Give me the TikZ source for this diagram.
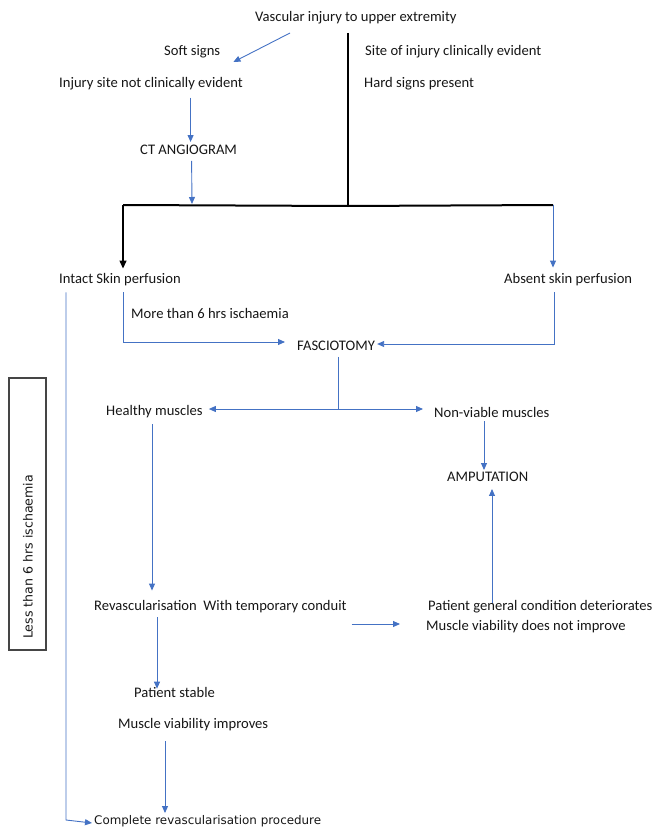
\documentclass[tikz,border=0pt]{standalone}
\usepackage{fontspec}
\setmainfont{Carlito}
\newfontfamily\boxfont{DejaVu Sans}
\usetikzlibrary{arrows.meta}
\definecolor{flowblue}{HTML}{4472C4}
\definecolor{inkgray}{HTML}{161616}
\tikzset{
  lbl/.style={anchor=west, inner sep=0pt, text=inkgray, font=\fontsize{14.6}{17}\selectfont},
  bluearrow/.style={draw=flowblue, line width=0.9pt, -{Triangle[width=6pt,length=7pt]}, flowblue},
  blueline/.style={draw=flowblue, line width=0.9pt},
  blackbar/.style={draw=black, line width=2pt},
  blackarrow/.style={draw=black, line width=1.3pt, -{Triangle[width=7pt,length=8pt]}},
}
\begin{document}
\begin{tikzpicture}[x=1pt,y=-1pt]
\useasboundingbox (0,0) rectangle (664,829);

% text nodes
\node[lbl] (title) at (255,18) {Vascular injury to upper extremity};
\node[lbl] (soft) at (164,52) {Soft signs};
\node[lbl] (site) at (365,52) {Site of injury clinically evident};
\node[lbl] (injury) at (59,84) {Injury site not clinically evident};
\node[lbl] (hard) at (364,84) {Hard signs present};
\node[lbl] (ct) at (140,150) {CT ANGIOGRAM};
\node[lbl] (intact) at (59,280) {Intact Skin perfusion};
\node[lbl] (absent) at (504,280) {Absent skin perfusion};
\node[lbl] (more) at (131,313) {More than 6 hrs ischaemia};
\node[lbl] (fascio) at (297,346) {FASCIOTOMY};
\node[lbl] (healthy) at (106,412) {Healthy muscles};
\node[lbl] (nonviable) at (434,412) {Non-viable muscles};
\node[lbl] (amput) at (447,477) {AMPUTATION};
\node[lbl] (revasc) at (94,607) {Revascularisation\ \ With temporary conduit};
\node[lbl] (patgen) at (428,607) {Patient general condition deteriorates};
\node[lbl] (musclenot) at (426,627) {Muscle viability does not improve};
\node[lbl] (stable) at (134,692) {Patient stable};
\node[lbl] (improves) at (118,725) {Muscle viability improves};
\node[lbl, font=\boxfont\fontsize{11.9}{14}\selectfont] (complete) at (94,821) {Complete revascularisation procedure};

% box on the left
\node[draw=inkgray!80, line width=1.2pt, minimum width=37pt, minimum height=272pt, inner sep=0pt] (lessbox) at (27.5,514) {};
\node[rotate=90, anchor=west, inner sep=0pt, text=inkgray, font=\boxfont\fontsize{12.6}{15}\selectfont] (less) at (28,639) {Less than 6 hrs ischaemia};

% junction coordinates
\coordinate (tstart) at (290,33);
\coordinate (vtop) at (348,33);
\coordinate (vbot) at (348,206);
\coordinate (barL) at (123,205);
\coordinate (barR) at (553,205);
\coordinate (ctend) at (192,204);
\coordinate (fjn) at (338,409);

% top part
\draw[bluearrow] (tstart) -- ([xshift=13pt,yshift=-10pt]soft.east);
\draw[blackbar] (vtop) -- (vbot);
\draw[blackbar] (barL) -- (vbot) -- (barR);
\draw[bluearrow] (injury.south -| ct.north) ++(2,7) -- ([xshift=2pt,yshift=3pt]ct.north);
\draw[bluearrow] ([xshift=3pt,yshift=-6pt]ct.south) -- (ctend);
\draw[blackarrow] (barL) -- ([yshift=5pt]barL |- intact.north);
\draw[bluearrow] (barR) -- ([yshift=6pt]barR |- absent.north);

% to fasciotomy
\draw[bluearrow] ([yshift=-6pt]barL |- intact.south) |- ([xshift=-12pt,yshift=4pt]fascio.west);
\draw[bluearrow] ([xshift=1pt,yshift=-6pt]barR |- absent.south) |- ([xshift=2pt,yshift=2pt]fascio.east);

% fasciotomy split
\draw[blueline] ([xshift=41pt,yshift=-6pt]fascio.south west) -- (fjn);
\draw[bluearrow] (fjn) -- ([xshift=6pt,yshift=3pt]healthy.east);
\draw[bluearrow] (fjn) -- ([xshift=-11pt,yshift=3pt]nonviable.west);
\draw[bluearrow] ([xshift=50pt,yshift=-4pt]nonviable.south west) -- ([xshift=37pt,yshift=2pt]amput.north west);

% healthy -> revascularisation
\draw[bluearrow] ([xshift=46pt,yshift=-6pt]healthy.south west) -- ([xshift=58pt,yshift=10pt]revasc.north west);
% deteriorates -> amputation
\draw[bluearrow] ([xshift=64pt,yshift=-3pt]patgen.north west) -- ([xshift=45pt,yshift=-7pt]amput.south west);
% revasc -> deteriorates
\draw[bluearrow] ([xshift=5pt,yshift=-17pt]revasc.east) -- ([xshift=-26pt,yshift=3pt]musclenot.west);
% revasc -> stable
\draw[bluearrow] ([xshift=63pt,yshift=-4pt]revasc.south west) -- ([xshift=23pt,yshift=-2pt]stable.north west);
% improves -> complete
\draw[bluearrow] ([xshift=47pt,yshift=-10pt]improves.south west) -- ([xshift=71pt,yshift=2pt]complete.north west);
% intact -> complete (left rail)
\draw[bluearrow] ([xshift=7pt,yshift=-6pt]intact.south west) -- ([xshift=7pt,yshift=1pt]intact.south west |- complete.west) -- ([xshift=-2pt,yshift=-2pt]complete.west);
\end{tikzpicture}
\end{document}
